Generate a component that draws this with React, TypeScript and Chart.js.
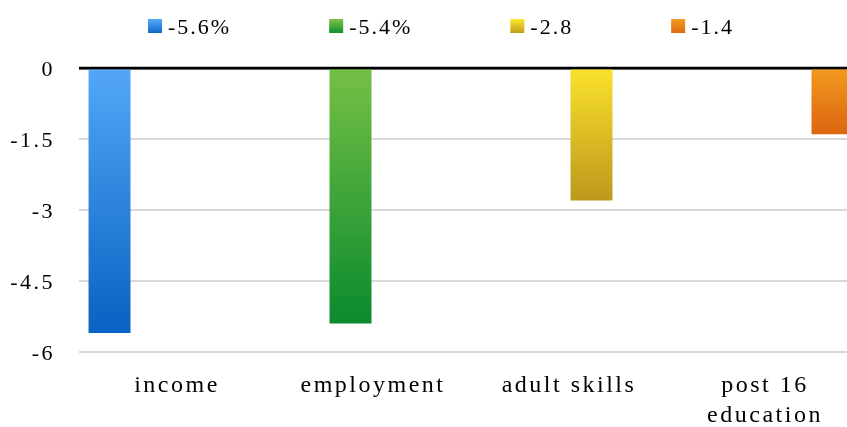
import React, { useEffect, useRef } from "react";
import { Chart, registerables } from "chart.js";

Chart.register(...registerables);

const categories: (string | string[])[] = ["income", "employment", "adult skills", ["post 16", "education"]];
const legendLabels = ["-5.6%", "-5.4%", "-2.8", "-1.4"];
const incomeValues = [-5.6, null, null, null];
const employmentValues = [null, -5.4, null, null];
const adultSkillsValues = [null, null, -2.8, null];
const post16Values = [null, null, null, -1.4];
const yTicks = [0, -1.5, -3, -4.5, -6];

const gradients: [string, string][] = [
  ["#54A7F7", "#0862C2"],
  ["#75C045", "#0A8A2E"],
  ["#FBE22D", "#BC981C"],
  ["#F09A1F", "#DD6510"],
];

const FONT = '"Liberation Serif", "Times New Roman", serif';
const SPACING = "2.5px";
const LEGEND_SPACING = "2px";
const LEGEND_CENTER = 441;

function barGradient(idx: number) {
  return (c: any) => {
    const [top, bottom] = gradients[idx];
    const chart = c.chart;
    if (!chart.chartArea || c.type !== "data" || c.raw == null) return top;
    const y = chart.scales.y;
    const y0 = y.getPixelForValue(0);
    const y1 = y.getPixelForValue(c.raw);
    if (!isFinite(y0) || !isFinite(y1) || y0 === y1) return top;
    const g = chart.ctx.createLinearGradient(0, y0, 0, y1);
    g.addColorStop(0, top);
    g.addColorStop(1, bottom);
    return g;
  };
}

const spacingPlugin = {
  id: "letterSpacing",
  beforeUpdate(chart: any) {
    chart.ctx.letterSpacing = SPACING;
  },
  beforeLayout(chart: any) {
    chart.ctx.letterSpacing = SPACING;
  },
  beforeDraw(chart: any) {
    chart.ctx.letterSpacing = SPACING;
  },
};

const zeroLinePlugin = {
  id: "zeroLine",
  afterDatasetsDraw(chart: any) {
    const { ctx, chartArea } = chart;
    const y = chart.scales.y.getPixelForValue(0);
    ctx.save();
    ctx.strokeStyle = "#000";
    ctx.lineWidth = 2.5;
    ctx.beginPath();
    ctx.moveTo(chartArea.left, y);
    ctx.lineTo(chartArea.right, y);
    ctx.stroke();
    ctx.restore();
  },
};

const legendPlugin = {
  id: "excelLegend",
  afterDraw(chart: any) {
    const ctx = chart.ctx;
    ctx.save();
    ctx.letterSpacing = LEGEND_SPACING;
    ctx.font = `22px ${FONT}`;
    ctx.textBaseline = "middle";
    ctx.textAlign = "left";
    const box = 14;
    const gapText = 6;
    const gapItem = 98;
    const widths = legendLabels.map((t) => box + gapText + ctx.measureText(t).width);
    const total = widths.reduce((a, b) => a + b, 0) + gapItem * (widths.length - 1);
    let x = LEGEND_CENTER - total / 2;
    const yMid = 27;
    legendLabels.forEach((t, i) => {
      const [top, bottom] = gradients[i];
      const g = ctx.createLinearGradient(0, yMid - box / 2, 0, yMid + box / 2);
      g.addColorStop(0, top);
      g.addColorStop(1, bottom);
      ctx.fillStyle = g;
      ctx.fillRect(x, yMid - box / 2 - 1, box, box);
      ctx.fillStyle = "#000";
      ctx.fillText(t, x + box + gapText, yMid + 1);
      x += widths[i] + gapItem;
    });
    ctx.restore();
  },
};

export default function App() {
  const ref = useRef<HTMLCanvasElement | null>(null);

  useEffect(() => {
    if (!ref.current) return;
    const seriesValues = [incomeValues, employmentValues, adultSkillsValues, post16Values];
    const chart = new Chart(ref.current, {
      type: "bar",
      data: {
        labels: categories as any,
        datasets: seriesValues.map((vals, i) => ({
          label: legendLabels[i],
          data: vals as any,
          backgroundColor: barGradient(i) as any,
          borderWidth: 0,
          categoryPercentage: 0.918,
          barPercentage: 0.933,
        })),
      },
      options: {
        animation: false,
        responsive: false,
        events: [],
        layout: { padding: { top: 68, left: 0, right: 7, bottom: 0 } },
        plugins: {
          legend: { display: false },
          tooltip: { enabled: false },
          title: { display: false },
        },
        scales: {
          x: {
            grid: { display: false },
            border: { display: false },
            afterFit: (axis: any) => {
              axis.height = 75;
            },
            ticks: {
              color: "#000",
              font: { family: FONT, size: 24, lineHeight: 1.25 },
              padding: 11,
              maxRotation: 0,
              autoSkip: false,
            },
          },
          y: {
            min: -6,
            max: 0,
            afterBuildTicks: (axis: any) => {
              axis.ticks = yTicks.map((v) => ({ value: v }));
            },
            afterFit: (axis: any) => {
              axis.width = 79;
            },
            border: { display: false },
            grid: {
              color: (c: any) => (c.tick && c.tick.value === 0 ? "#000" : "#d9d9d9"),
              lineWidth: (c: any) => (c.tick && c.tick.value === 0 ? 2.5 : 2),
              drawTicks: false,
            },
            ticks: {
              color: "#000",
              font: { family: FONT, size: 22 },
              padding: 24,
              labelOffset: 2,
              callback: (v: any) => String(v),
            },
          },
        },
      },
      plugins: [spacingPlugin, zeroLinePlugin, legendPlugin],
    });
    return () => chart.destroy();
  }, []);

  return (
    <div style={{ position: "fixed", left: 0, top: 0, width: 847, height: 427, overflow: "hidden", background: "#fff" }}>
      <canvas ref={ref} width={870} height={427} style={{ width: 870, height: 427, display: "block" }} />
    </div>
  );
}
